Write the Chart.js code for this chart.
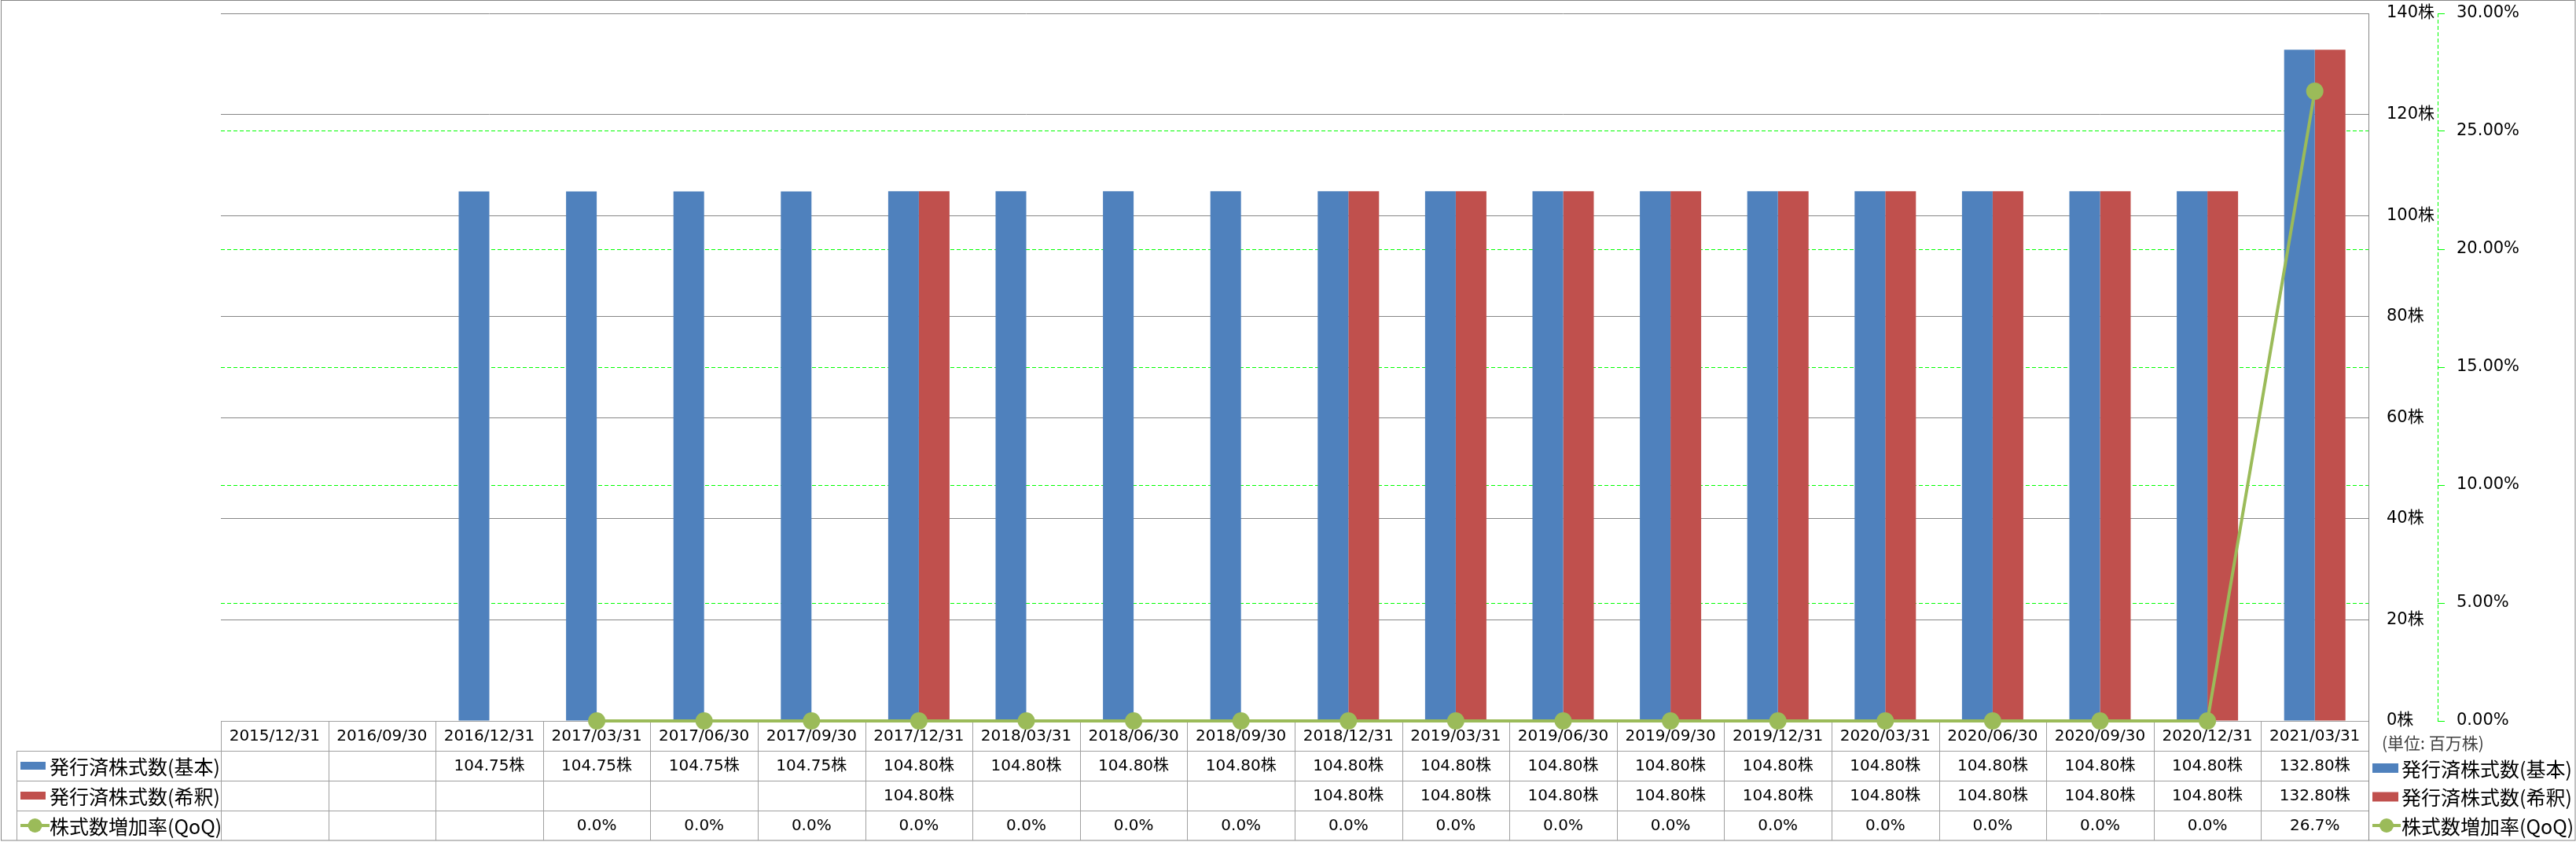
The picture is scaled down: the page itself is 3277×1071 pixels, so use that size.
<!DOCTYPE html>
<html lang="ja">
<head>
<meta charset="utf-8">
<title>発行済株式数</title>
<script src="https://cdn.jsdelivr.net/npm/chart.js@4.4.1/dist/chart.umd.min.js"></script>
<style>
  html, body { margin: 0; padding: 0; background: #ffffff; }
  #wrap { width: 3277px; height: 1071px; }
</style>
</head>
<body>
<div id="wrap"><canvas id="SharesChart" width="3277" height="1071"></canvas></div>
<script>
(function () {
  "use strict";

  // data (unit: million shares / %)
  const categories = ['2015/12/31', '2016/09/30', '2016/12/31', '2017/03/31', '2017/06/30', '2017/09/30',
    '2017/12/31', '2018/03/31', '2018/06/30', '2018/09/30', '2018/12/31', '2019/03/31', '2019/06/30',
    '2019/09/30', '2019/12/31', '2020/03/31', '2020/06/30', '2020/09/30', '2020/12/31', '2021/03/31'];
  const basicShares = [null, null, 104.75, 104.75, 104.75, 104.75, 104.80, 104.80, 104.80, 104.80,
    104.80, 104.80, 104.80, 104.80, 104.80, 104.80, 104.80, 104.80, 104.80, 132.80];
  const dilutedShares = [null, null, null, null, null, null, 104.80, null, null, null,
    104.80, 104.80, 104.80, 104.80, 104.80, 104.80, 104.80, 104.80, 104.80, 132.80];
  const qoqRate = [null, null, null, 0.0, 0.0, 0.0, 0.0, 0.0, 0.0, 0.0,
    0.0, 0.0, 0.0, 0.0, 0.0, 0.0, 0.0, 0.0, 0.0, 26.7];

  const labelBasic = '発行済株式数(基本)';
  const labelDiluted = '発行済株式数(希釈)';
  const labelQoq = '株式数増加率(QoQ)';
  const unitLabel = '(単位: 百万株)';

  // colors
  const blue = '#4F81BD';
  const red = '#C0504D';
  const green = '#9BBB59';
  const grid_gray = '#868686';
  const table_gray = '#A0A0A0';
  const dash_green = '#00FF00';

  const FONT = '"DejaVu Sans", "Noto Sans CJK JP", sans-serif';
  const JP_FONT = '"Noto Sans CJK JP", sans-serif';

  const rows = [
    { label: labelBasic, color: blue, kind: 'bar', values: basicShares, fmt: v => v.toFixed(2) + '株' },
    { label: labelDiluted, color: red, kind: 'bar', values: dilutedShares, fmt: v => v.toFixed(2) + '株' },
    { label: labelQoq, color: green, kind: 'line', values: qoqRate, fmt: v => v.toFixed(1) + '%' }
  ];

  function drawKey(ctx, row, x0, yc, w, h) {
    ctx.save();
    if (row.kind === 'bar') {
      ctx.fillStyle = row.color;
      ctx.fillRect(x0, yc - h / 2, w, h);
    } else {
      ctx.strokeStyle = row.color;
      ctx.lineWidth = 4;
      ctx.beginPath();
      ctx.moveTo(x0, yc);
      ctx.lineTo(x0 + w, yc);
      ctx.stroke();
      ctx.fillStyle = row.color;
      ctx.beginPath();
      ctx.arc(x0 + w / 2, yc, 9, 0, Math.PI * 2);
      ctx.fill();
    }
    ctx.restore();
  }

  // no extra room for the first/last tick labels
  function fixAxis(width) {
    return (scale) => {
      scale.width = width;
      scale.paddingTop = 0;
      scale.paddingBottom = 0;
    };
  }

  // data table under the plot + right legend + frame
  const tablePlugin = {
    id: 'dataTable',
    beforeDatasetsDraw(chart) {
      const { ctx, chartArea, scales: { x, y1 } } = chart;
      const colW = (x.right - x.left) / categories.length;
      const top = chartArea.bottom;
      const rowH = 38;
      const legendLeft = 21;
      const bottom = top + rowH * 4;

      ctx.save();
      // outer frame
      ctx.strokeStyle = grid_gray;
      ctx.lineWidth = 1;
      ctx.strokeRect(1.5, 0.5, chart.width - 2.5, bottom - 0.5);

      // dashed secondary axis line
      ctx.strokeStyle = dash_green;
      ctx.setLineDash([5, 3]);
      ctx.beginPath();
      ctx.moveTo(Math.round(y1.left) + 0.5, chartArea.top);
      ctx.lineTo(Math.round(y1.left) + 0.5, chartArea.bottom);
      ctx.stroke();
      ctx.setLineDash([]);

      // table grid
      ctx.strokeStyle = table_gray;
      ctx.beginPath();
      for (let r = 1; r <= 3; r++) {
        const yy = Math.round(top + rowH * r) + 0.5;
        ctx.moveTo(legendLeft, yy);
        ctx.lineTo(x.right, yy);
      }
      for (let i = 0; i <= categories.length; i++) {
        const xx = Math.round(x.left + colW * i) + 0.5;
        ctx.moveTo(xx, top);
        ctx.lineTo(xx, bottom);
      }
      ctx.moveTo(legendLeft + 0.5, top + rowH);
      ctx.lineTo(legendLeft + 0.5, bottom);
      ctx.stroke();
      ctx.strokeStyle = grid_gray;
      ctx.beginPath();
      ctx.moveTo(Math.round(x.right) + 0.5, chartArea.top);
      ctx.lineTo(Math.round(x.right) + 0.5, bottom);
      ctx.stroke();

      // header + values
      ctx.fillStyle = '#000000';
      ctx.textAlign = 'center';
      ctx.textBaseline = 'middle';
      ctx.font = '20px ' + FONT;
      categories.forEach((c, i) => {
        const cx = x.getPixelForValue(i);
        ctx.fillText(c, cx, top + rowH / 2 + 1);
        rows.forEach((row, r) => {
          const v = row.values[i];
          if (v !== null) ctx.fillText(row.fmt(v), cx, top + rowH * (r + 1.5) + 1);
        });
      });

      // legend cells (left) and legend (right)
      ctx.textAlign = 'left';
      ctx.font = '25px ' + JP_FONT;
      rows.forEach((row, r) => {
        const yc = top + rowH * (r + 1.5);
        drawKey(ctx, row, 26, yc, row.kind === 'bar' ? 32 : 37, 10);
        ctx.fillStyle = '#000000';
        ctx.fillText(row.label, 63, yc + 1);
        const yr = top + 60 + r * 36.5;
        drawKey(ctx, row, 3018, yr, row.kind === 'bar' ? 33 : 36, 12);
        ctx.fillStyle = '#000000';
        ctx.fillText(row.label, 3055, yr + 1);
      });

      ctx.font = '21px ' + JP_FONT;
      ctx.fillStyle = '#404040';
      ctx.fillText(unitLabel, 3030, top + 28);
      ctx.restore();
    }
  };

  const myChart = function () {
    const cts = document.getElementById('SharesChart').getContext('2d');

    new Chart(cts, {
      type: 'bar',
      data: {
        labels: categories,
        datasets: [{
          type: 'line',
          label: labelQoq,
          data: qoqRate,
          yAxisID: 'y1',
          order: 0,
          borderColor: green,
          borderWidth: 4,
          backgroundColor: green,
          pointBackgroundColor: green,
          pointBorderWidth: 0,
          pointRadius: 11,
          tension: 0,
          clip: false
        }, {
          label: labelBasic,
          data: basicShares,
          yAxisID: 'y',
          order: 1,
          backgroundColor: blue,
          categoryPercentage: 0.571,
          barPercentage: 1.0
        }, {
          label: labelDiluted,
          data: dilutedShares,
          yAxisID: 'y',
          order: 1,
          backgroundColor: red,
          categoryPercentage: 0.571,
          barPercentage: 1.0
        }]
      },
      options: {
        responsive: false,
        animation: false,
        devicePixelRatio: 1,
        layout: {
          padding: { left: 281, top: 17, right: 0, bottom: 154 }
        },
        scales: {
          x: {
            offset: true,
            grid: { display: false },
            border: { display: true, color: table_gray },
            ticks: { display: false },
            afterFit: (scale) => { scale.height = 0; }
          },
          y: {
            position: 'right',
            weight: 0,
            min: 0,
            max: 140,
            grid: { color: grid_gray, drawTicks: false },
            border: { display: true, color: grid_gray },
            ticks: {
              stepSize: 20,
              padding: 23,
              color: '#000000',
              font: { family: FONT, size: 21 },
              callback: (v) => v + '株'
            },
            afterFit: fixAxis(88)
          },
          y1: {
            position: 'right',
            weight: 1,
            min: 0,
            max: 30,
            grid: {
              color: (c) => (c.tick && (c.tick.value === 0 || c.tick.value === 30)) ? 'rgba(0,0,0,0)' : dash_green,
              tickColor: dash_green,
              tickLength: 9,
              drawTicks: true
            },
            border: { display: false, dash: [5, 3] },
            ticks: {
              stepSize: 5,
              padding: 15,
              color: '#000000',
              font: { family: FONT, size: 21 },
              callback: (v) => v.toFixed(2) + '%'
            },
            afterFit: fixAxis(176)
          }
        },
        plugins: {
          legend: { display: false },
          tooltip: { enabled: false }
        }
      },
      plugins: [tablePlugin]
    });
  };

  myChart();
})();
</script>
</body>
</html>
